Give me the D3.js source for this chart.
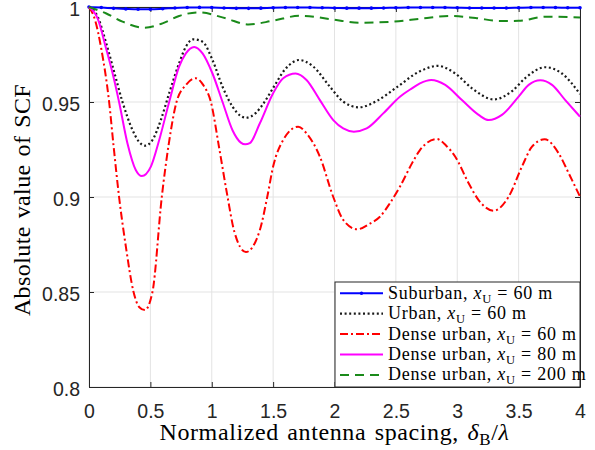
<!DOCTYPE html>
<html>
<head>
<meta charset="utf-8">
<script src="https://cdn.jsdelivr.net/npm/d3@7"></script>
<style>
  html, body { margin: 0; padding: 0; background: #fff; }
  svg { display: block; }
</style>
</head>
<body>
<svg id="chart" width="595" height="450"></svg>
<script>
// Axis ticks
const xTickValues = [0, 0.5, 1, 1.5, 2, 2.5, 3, 3.5, 4];
const xTickLabels = ["0", "0.5", "1", "1.5", "2", "2.5", "3", "3.5", "4"];
const yTickValues = [0.8, 0.85, 0.9, 0.95, 1];
const yTickLabels = ["0.8", "0.85", "0.9", "0.95", "1"];

// Suburban, x_U = 60 m (sampled every 0.1)
const suburbanX = d3.range(0, 41).map(i => i / 10);
const suburban60 = [1, 0.9997, 0.9993, 0.9990, 0.9988, 0.9988, 0.9991, 0.9995, 0.9997, 0.9998,
  0.9997, 0.9995, 0.9993, 0.9993, 0.9994, 0.9996, 0.9997, 0.9997, 0.9997, 0.9996,
  0.9995, 0.9994, 0.9994, 0.9994, 0.9995, 0.9996, 0.9997, 0.9997, 0.9997, 0.9997,
  0.9996, 0.9995, 0.9995, 0.9995, 0.9995, 0.9996, 0.9997, 0.9997, 0.9997, 0.9996, 0.9996];

// Urban, x_U = 60 m
const urbanX = [0, 0.07, 0.14, 0.2, 0.273, 0.354, 0.408, 0.458, 0.517, 0.585, 0.653, 0.734, 0.789, 0.849,
  0.925, 1.006, 1.088, 1.17, 1.237, 1.278, 1.36, 1.419, 1.5, 1.6, 1.712, 1.826, 1.963, 2.071, 2.2,
  2.343, 2.506, 2.696, 2.843, 2.984, 3.12, 3.297, 3.446, 3.554, 3.717, 3.853, 4.0];
const urban60 = [1, 0.995, 0.981, 0.967, 0.95, 0.9353, 0.929, 0.927, 0.93, 0.9405, 0.9546, 0.9704, 0.9791, 0.983,
  0.9817, 0.9721, 0.958, 0.9475, 0.9426, 0.9417, 0.9443, 0.949, 0.9574, 0.9674, 0.9721, 0.9687, 0.958, 0.9502, 0.9472,
  0.9505, 0.9577, 0.9662, 0.969, 0.965, 0.9572, 0.9514, 0.9557, 0.9626, 0.9683, 0.965, 0.9542];

// Dense urban, x_U = 60 m
const dense60X = [0, 0.05, 0.1, 0.164, 0.2, 0.245, 0.3, 0.363, 0.41, 0.455, 0.517, 0.593, 0.65, 0.713, 0.79, 0.87,
  0.93, 0.993, 1.06, 1.129, 1.183, 1.278, 1.392, 1.452, 1.5, 1.582, 1.704, 1.772, 1.881, 1.99, 2.071, 2.185,
  2.288, 2.37, 2.451, 2.533, 2.631, 2.696, 2.834, 2.91, 2.984, 3.093, 3.174, 3.297, 3.419, 3.527, 3.609,
  3.712, 3.826, 3.908, 4.0];
const dense60 = [1, 0.993, 0.978, 0.95, 0.927, 0.9, 0.874, 0.85, 0.842, 0.8405, 0.85, 0.9, 0.928, 0.95, 0.959, 0.9625,
  0.959, 0.95, 0.926, 0.9, 0.882, 0.871, 0.8826, 0.9, 0.916, 0.93, 0.937, 0.9335, 0.9212, 0.9, 0.888, 0.883,
  0.886, 0.8896, 0.8967, 0.9054, 0.9177, 0.9247, 0.9305, 0.927, 0.9212, 0.9072, 0.8984, 0.8928, 0.9002, 0.916, 0.9265,
  0.9304, 0.923, 0.9125, 0.9002];

// Dense urban, x_U = 80 m
const dense80X = [0, 0.07, 0.14, 0.2, 0.245, 0.313, 0.381, 0.43, 0.504, 0.572, 0.653, 0.734, 0.789, 0.857, 0.925,
  1.006, 1.088, 1.17, 1.237, 1.273, 1.31, 1.392, 1.5, 1.582, 1.683, 1.772, 1.881, 1.99, 2.071, 2.158, 2.262,
  2.397, 2.533, 2.631, 2.696, 2.788, 2.902, 3.038, 3.174, 3.256, 3.364, 3.5, 3.582, 3.677, 3.772, 3.88, 4.0];
const dense80 = [1, 0.994, 0.978, 0.963, 0.95, 0.9283, 0.9142, 0.911, 0.916, 0.93, 0.95, 0.9686, 0.9756, 0.979, 0.9756,
  0.965, 0.95, 0.935, 0.9286, 0.9277, 0.9283, 0.9388, 0.9546, 0.9625, 0.965, 0.9616, 0.951, 0.9405, 0.9361, 0.9344, 0.9361,
  0.944, 0.9528, 0.9572, 0.9598, 0.9616, 0.959, 0.951, 0.9432, 0.9405, 0.9432, 0.9528, 0.959, 0.9614, 0.959, 0.951, 0.9423];

// Dense urban, x_U = 200 m
const dense200X = [0, 0.137, 0.273, 0.45, 0.599, 0.734, 0.897, 1.115, 1.3, 1.5, 1.718, 1.99, 2.2, 2.48, 2.72,
  2.95, 3.15, 3.35, 3.5, 3.72, 4.0];
const dense200 = [1, 0.9967, 0.9923, 0.9891, 0.9914, 0.9953, 0.9972, 0.994, 0.9908, 0.9928, 0.9954, 0.9934, 0.9917,
  0.9923, 0.994, 0.9953, 0.9942, 0.9926, 0.9927, 0.9949, 0.9945];

const seriesNames = [
  ["Suburban, ", "60 m"],
  ["Urban, ", "60 m"],
  ["Dense urban, ", "60 m"],
  ["Dense urban, ", "80 m"],
  ["Dense urban, ", "200 m"]
];

const series = [
  { xs: suburbanX, ys: suburban60, color: "#0000ff", dash: null, width: 2, markers: true },
  { xs: urbanX, ys: urban60, color: "#1a1a1a", dash: "2,2.6", width: 2.2, markers: false },
  { xs: dense60X, ys: dense60, color: "#ff0000", dash: "8,3,2,3", width: 2, markers: false },
  { xs: dense80X, ys: dense80, color: "#ff00ff", dash: null, width: 2, markers: false },
  { xs: dense200X, ys: dense200, color: "#1a8a1a", dash: "9,6", width: 2, markers: false }
];

const svg = d3.select("#chart");
const mLeft = 89, mRight = 580, mTop = 7, mBottom = 387;

const x = d3.scaleLinear().domain([0, 4]).range([mLeft, mRight]);
const y = d3.scaleLinear().domain([0.8, 1]).range([mBottom, mTop]);

const axisColor = "#262626";
const sansFont = "'Liberation Sans', Arial, sans-serif";
const serifFont = "'Liberation Serif', 'Times New Roman', serif";

// grid
const grid = svg.append("g");
grid.selectAll("line.gx").data(xTickValues).enter().append("line")
  .attr("x1", d => x(d)).attr("x2", d => x(d))
  .attr("y1", mTop).attr("y2", mBottom)
  .attr("stroke", "#e3e3e3").attr("stroke-width", 1);
grid.selectAll("line.gy").data(yTickValues).enter().append("line")
  .attr("x1", mLeft).attr("x2", mRight)
  .attr("y1", d => y(d)).attr("y2", d => y(d))
  .attr("stroke", "#e3e3e3").attr("stroke-width", 1);

// axes with inward ticks on all four sides
const tickLen = 5;
const xAxisB = d3.axisBottom(x).tickValues(xTickValues).tickSizeInner(-tickLen).tickSizeOuter(0)
  .tickFormat((d, i) => xTickLabels[i]).tickPadding(17);
const xAxisT = d3.axisTop(x).tickValues(xTickValues).tickSizeInner(-tickLen).tickSizeOuter(0).tickFormat("");
const yAxisL = d3.axisLeft(y).tickValues(yTickValues).tickSizeInner(-tickLen).tickSizeOuter(0)
  .tickFormat((d, i) => yTickLabels[i]).tickPadding(9);
const yAxisR = d3.axisRight(y).tickValues(yTickValues).tickSizeInner(-tickLen).tickSizeOuter(0).tickFormat("");

function styleAxis(g) {
  g.selectAll("path").attr("stroke", axisColor).attr("stroke-width", 1);
  g.selectAll("line").attr("stroke", axisColor).attr("stroke-width", 1);
  g.selectAll("text").attr("fill", "#262626").attr("font-family", sansFont).attr("font-size", 19.5);
}
svg.append("g").attr("transform", `translate(0,${mBottom})`).call(xAxisB).call(styleAxis);
svg.append("g").attr("transform", `translate(0,${mTop})`).call(xAxisT).call(styleAxis);
svg.append("g").attr("transform", `translate(${mLeft},0)`).call(yAxisL).call(styleAxis)
  .selectAll("text").attr("dy", "0.42em");
svg.append("g").attr("transform", `translate(${mRight},0)`).call(yAxisR).call(styleAxis);

// series lines
const plot = svg.append("g");
series.forEach(s => {
  const pts = s.xs.map((xv, i) => [xv, s.ys[i]]);
  const line = d3.line().x(d => x(d[0])).y(d => y(d[1])).curve(d3.curveMonotoneX);
  const p = plot.append("path").datum(pts)
    .attr("d", line)
    .attr("fill", "none")
    .attr("stroke", s.color)
    .attr("stroke-width", s.width)
    .attr("stroke-linejoin", "round");
  if (s.dash) p.attr("stroke-dasharray", s.dash);
  if (s.markers) {
    plot.selectAll(null).data(pts).enter().append("circle")
      .attr("cx", d => x(d[0])).attr("cy", d => y(d[1]))
      .attr("r", 1.8).attr("fill", s.color);
  }
});

// axis labels
const xl = svg.append("text")
  .attr("x", (mLeft + mRight) / 2).attr("y", 440)
  .attr("text-anchor", "middle")
  .attr("font-family", serifFont).attr("font-size", 24)
  .attr("letter-spacing", 0.6).attr("word-spacing", 2)
  .attr("fill", "#000");
xl.append("tspan").text("Normalized antenna spacing, ");
xl.append("tspan").attr("font-style", "italic").text("δ");
xl.append("tspan").attr("font-size", 17).attr("dy", 4.5).text("B");
xl.append("tspan").attr("dy", -4.5).text("/");
xl.append("tspan").attr("font-style", "italic").text("λ");

svg.append("text")
  .attr("transform", "translate(30,200) rotate(-90)")
  .attr("text-anchor", "middle")
  .attr("font-family", serifFont).attr("font-size", 24)
  .attr("letter-spacing", 0.4).attr("word-spacing", 1.5)
  .attr("fill", "#000")
  .text("Absolute value of SCF");

// legend
const lg = svg.append("g");
const lgX = 335, lgY = 282, lgW = 245, lgH = 105;
lg.append("rect").attr("x", lgX).attr("y", lgY).attr("width", lgW).attr("height", lgH)
  .attr("fill", "#fff").attr("stroke", axisColor).attr("stroke-width", 1);
series.forEach((s, i) => {
  const cy = 293.3 + i * 20.4;
  const l = lg.append("line").attr("x1", 340).attr("x2", 383).attr("y1", cy).attr("y2", cy)
    .attr("stroke", s.color).attr("stroke-width", s.width);
  if (s.dash) l.attr("stroke-dasharray", s.dash);
  if (s.markers) lg.append("circle").attr("cx", 361.5).attr("cy", cy).attr("r", 1.8).attr("fill", s.color);
  const t = lg.append("text").attr("x", 388).attr("y", cy + 5.5)
    .attr("font-family", serifFont).attr("font-size", 18)
    .attr("letter-spacing", 0.75)
    .attr("fill", "#000");
  t.append("tspan").text(seriesNames[i][0]);
  t.append("tspan").attr("font-style", "italic").text("x");
  t.append("tspan").attr("font-size", 12.5).attr("dy", 4).text("U");
  t.append("tspan").attr("dy", -4).text(" = " + seriesNames[i][1]);
});
</script>
</body>
</html>
